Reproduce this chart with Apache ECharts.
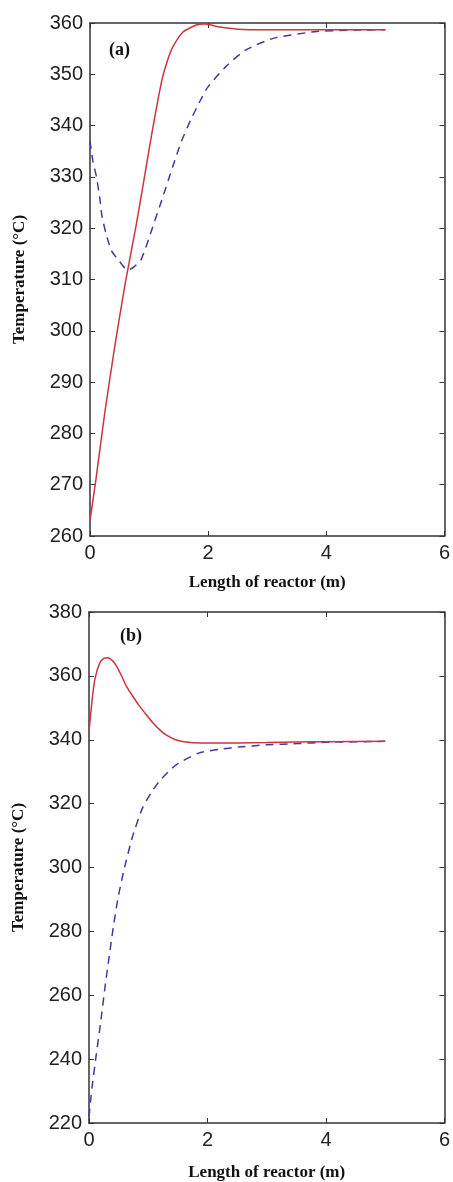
<!DOCTYPE html>
<html lang="en">
<head>
    <meta charset="utf-8"/>
    <title>Reactor temperature profiles</title>
    <script src="https://cdn.jsdelivr.net/npm/echarts@6/dist/echarts.min.js"></script>
    <style>
        body { margin: 0; background: #fff; }
        #main { width: 453px; height: 1182px; }
    </style>
</head>
<body>
<div id="main"></div>
<script>
    // panel (a)
    var aSolidX = [0, 0.1, 0.25, 0.42, 0.6, 0.78, 0.9, 1.04, 1.15, 1.23, 1.32, 1.4, 1.57, 1.8, 1.95, 2.2, 2.5, 3, 4, 5];
    var aSolidY = [263, 271, 284, 297, 309.5, 320.5, 328.5, 338, 345, 349.5, 353, 355.3, 358.2, 359.6, 359.8, 359.2, 358.8, 358.7, 358.7, 358.7];
    var aDashX = [0, 0.05, 0.11, 0.17, 0.2, 0.27, 0.36, 0.48, 0.64, 0.75, 0.87, 1.04, 1.23, 1.4, 1.55, 1.7, 1.85, 2.0, 2.3, 2.63, 3.1, 3.8, 4.4, 5];
    var aDashY = [337, 333, 330, 325.5, 322.5, 319, 315.7, 313.8, 311.8, 312.5, 314, 319.5, 326, 332, 337, 341, 344.5, 347.6, 351.5, 354.7, 357, 358.3, 358.6, 358.7];

    // panel (b)
    var bSolidX = [0, 0.05, 0.1, 0.18, 0.25, 0.32, 0.4, 0.46, 0.55, 0.63, 0.75, 0.85, 0.96, 1.07, 1.2, 1.3, 1.45, 1.63, 1.9, 2.5, 3, 3.5, 4, 5];
    var bSolidY = [342.5, 352, 359, 364, 365.5, 365.7, 364.7, 363.2, 360, 356.8, 353.3, 350.6, 348, 345.5, 343, 341.5, 340.1, 339.3, 339, 339, 339.1, 339.3, 339.4, 339.5];
    var bDashX = [0, 0.05, 0.12, 0.2, 0.28, 0.34, 0.4, 0.485, 0.6, 0.735, 0.9, 1.07, 1.21, 1.46, 1.85, 2.2, 2.52, 3, 3.52, 4, 5];
    var bDashY = [222, 231, 241, 252, 264, 272, 280, 290, 300, 309.7, 318.5, 324, 327.5, 332, 335.8, 337, 337.7, 338.4, 338.8, 339.2, 339.5];

    var xTicks = [0, 2, 4, 6];
    var aYRange = [260, 360, 10];
    var bYRange = [220, 380, 20];

    function pairs(xs, ys) {
        return xs.map(function (x, i) { return [x, ys[i]]; });
    }

    var axisCol = '#333';
    var nameStyle = { fontFamily: 'Liberation Serif', fontWeight: 'bold', fontSize: 17, color: '#111' };

    function xAx(grid, pos, showLabel, gap) {
        return {
            type: 'value', gridIndex: grid, position: pos,
            min: xTicks[0], max: xTicks[xTicks.length - 1], interval: xTicks[1] - xTicks[0],
            name: showLabel ? 'Length of reactor (m)' : '',
            nameLocation: 'middle', nameGap: gap || 40, nameTextStyle: nameStyle,
            axisLine: { show: true, onZero: false, lineStyle: { color: axisCol, width: 1.5 } },
            axisTick: { show: true, inside: true, length: 5, lineStyle: { color: axisCol } },
            axisLabel: { show: showLabel, fontFamily: 'Liberation Sans', fontSize: 20, color: '#222', margin: 7 },
            splitLine: { show: false }
        };
    }

    function yAx(grid, pos, range, showLabel) {
        return {
            type: 'value', gridIndex: grid, position: pos,
            min: range[0], max: range[1], interval: range[2],
            name: showLabel ? 'Temperature (°C)' : '',
            nameLocation: 'middle', nameGap: 62, nameRotate: 90, nameTextStyle: nameStyle,
            axisLine: { show: true, onZero: false, lineStyle: { color: axisCol, width: 1.5 } },
            axisTick: { show: true, inside: true, length: 5, lineStyle: { color: axisCol } },
            axisLabel: { show: showLabel, fontFamily: 'Liberation Sans', fontSize: 20, color: '#222', margin: 7 },
            splitLine: { show: false }
        };
    }

    function line(xi, yi, data, color, dashed) {
        return {
            type: 'line', xAxisIndex: xi, yAxisIndex: yi, data: data,
            smooth: 0.2, showSymbol: false, symbol: 'none',
            lineStyle: { color: color, width: 1.5, type: dashed ? [8, 6] : 'solid' }
        };
    }

    var chart = echarts.init(document.getElementById('main'));
    chart.setOption({
        animation: false,
        title: [
            { text: '(a)', left: 104, top: 36, textStyle: { fontFamily: 'Liberation Serif', fontWeight: 'bold', fontSize: 18, color: '#111' } },
            { text: '(b)', left: 115, top: 622, textStyle: { fontFamily: 'Liberation Serif', fontWeight: 'bold', fontSize: 18, color: '#111' } }
        ],
        grid: [
            { left: 90, top: 23, width: 357, height: 513 },
            { left: 89, top: 612, width: 359, height: 515 }
        ],
        xAxis: [xAx(0, 'bottom', true, 38), xAx(0, 'top', false), xAx(1, 'bottom', true, 41), xAx(1, 'top', false)],
        yAxis: [yAx(0, 'left', aYRange, true), yAx(0, 'right', aYRange, false),
                yAx(1, 'left', bYRange, true), yAx(1, 'right', bYRange, false)],
        series: [
            line(0, 0, pairs(aDashX, aDashY), '#3c3ca0', true),
            line(0, 0, pairs(aSolidX, aSolidY), '#cc3540', false),
            line(2, 2, pairs(bDashX, bDashY), '#3c3ca0', true),
            line(2, 2, pairs(bSolidX, bSolidY), '#cc3540', false)
        ]
    });
</script>
</body>
</html>
